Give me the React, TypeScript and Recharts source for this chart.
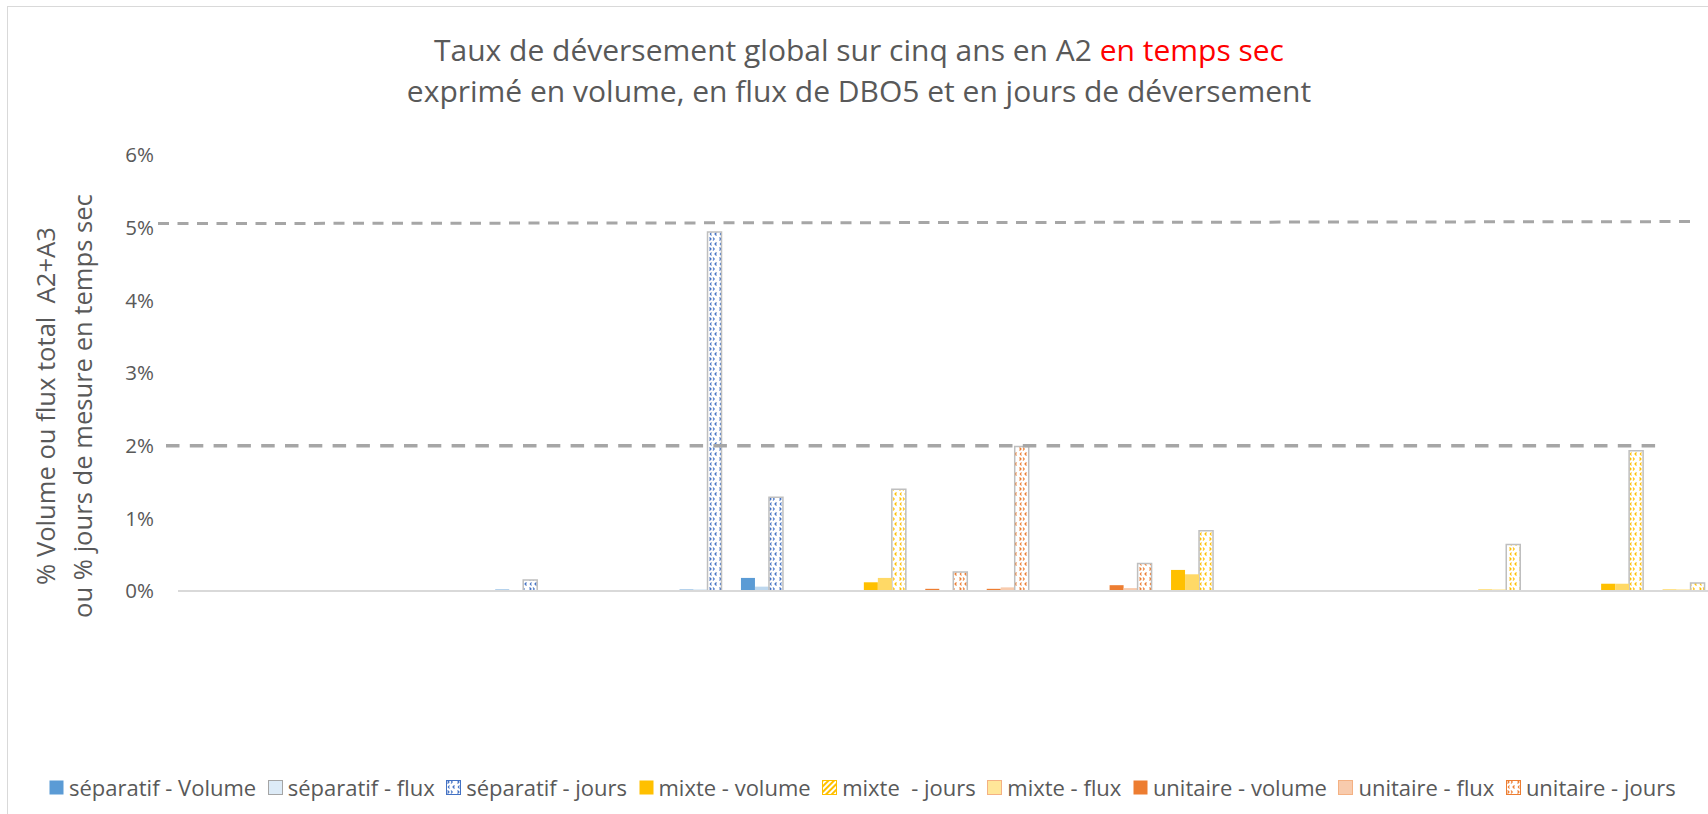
import { BarChart, Bar, XAxis, YAxis, ReferenceLine, Legend } from 'recharts';

const _ = null;

// 25 sites along the x axis (no labels shown on the chart)
const categories = [
  'S01', 'S02', 'S03', 'S04', 'S05', 'S06', 'S07', 'S08', 'S09', 'S10', 'S11', 'S12', 'S13',
  'S14', 'S15', 'S16', 'S17', 'S18', 'S19', 'S20', 'S21', 'S22', 'S23', 'S24', 'S25',
];

// values in %
const sepVolume = [_, _, _, _, _, 0.02, _, _, 0.02, 0.18, _, _, _, _, _, _, _, _, _, _, _, _, _, _, _];
const sepFlux = [_, _, _, _, _, 0, _, _, 0.02, 0.06, _, _, _, _, _, _, _, _, _, _, _, _, _, _, _];
const sepJours = [_, _, _, _, _, 0.15, _, _, 4.94, 1.29, _, _, _, _, _, _, _, _, _, _, _, _, _, _, _];
const mixVolume = [_, _, _, _, _, _, _, _, _, _, _, 0.12, _, _, _, _, 0.29, _, _, _, _, 0.02, _, 0.1, 0.02];
const mixJours = [_, _, _, _, _, _, _, _, _, _, _, 1.4, _, _, _, _, 0.83, _, _, _, _, 0.64, _, 1.93, 0.11];
const mixFlux = [_, _, _, _, _, _, _, _, _, _, _, 0.18, _, _, _, _, 0.23, _, _, _, _, 0.02, _, 0.1, 0.02];
const uniVolume = [_, _, _, _, _, _, _, _, _, _, _, _, 0.03, 0.03, _, 0.08, _, _, _, _, _, _, _, _, _];
const uniFlux = [_, _, _, _, _, _, _, _, _, _, _, _, 0.01, 0.05, _, 0.04, _, _, _, _, _, _, _, _, _];
const uniJours = [_, _, _, _, _, _, _, _, _, _, _, _, 0.26, 1.99, _, 0.38, _, _, _, _, _, _, _, _, _];

const yTicks = [0, 1, 2, 3, 4, 5, 6];

const data = categories.map((cat, i) => ({
  cat,
  sepVolume: sepVolume[i],
  sepFlux: sepFlux[i],
  sepJours: sepJours[i],
  mixVolume: mixVolume[i],
  mixJours: mixJours[i],
  mixFlux: mixFlux[i],
  uniVolume: uniVolume[i],
  uniFlux: uniFlux[i],
  uniJours: uniJours[i],
}));

const FONT = "'Open Sans', sans-serif";
const GRAY = '#595959';
const BAR_BORDER = '#BFBFBF';

const series = [
  { key: 'sepVolume', name: 'séparatif - Volume', stack: 'v', fill: '#5B9BD5', icon: '#5B9BD5', iconStroke: 'none' },
  { key: 'sepFlux', name: 'séparatif - flux', stack: 'f', fill: '#BDD7EE', icon: '#DDEBF7', iconStroke: '#A5A5A5' },
  { key: 'sepJours', name: 'séparatif - jours', stack: 'j', fill: 'url(#pat-sep)', stroke: BAR_BORDER, icon: 'url(#pat-sep)', iconStroke: '#4472C4' },
  { key: 'mixVolume', name: 'mixte - volume', stack: 'v', fill: '#FFC000', icon: '#FFC000', iconStroke: 'none' },
  { key: 'mixJours', name: 'mixte  - jours', stack: 'j', fill: 'url(#pat-mix)', stroke: BAR_BORDER, icon: 'url(#hatch-mix)', iconStroke: '#FFC000' },
  { key: 'mixFlux', name: 'mixte - flux', stack: 'f', fill: '#FFD966', icon: '#FFE699', iconStroke: '#F4B183' },
  { key: 'uniVolume', name: 'unitaire - volume', stack: 'v', fill: '#ED7D31', icon: '#ED7D31', iconStroke: 'none' },
  { key: 'uniFlux', name: 'unitaire - flux', stack: 'f', fill: '#F8CBAD', icon: '#F8CBAD', iconStroke: '#F4B183' },
  { key: 'uniJours', name: 'unitaire - jours', stack: 'j', fill: 'url(#pat-uni)', stroke: BAR_BORDER, icon: 'url(#pat-uni)', iconStroke: '#ED7D31' },
];

const patterns = [
  { id: 'pat-sep', color: '#4472C4' },
  { id: 'pat-mix', color: '#FFC000' },
  { id: 'pat-uni', color: '#ED7D31' },
];

function renderLegend() {
  return (
    <div style={{ display: 'flex', alignItems: 'center', height: 30, whiteSpace: 'pre', fontFamily: FONT, fontSize: 22, color: GRAY }}>
      {series.map((s) => (
        <div key={s.key} style={{ display: 'flex', alignItems: 'center', marginRight: 11.5 }}>
          <svg width={15} height={15} style={{ marginRight: 5, flex: 'none' }}>
            <rect x={0.5} y={0.5} width={14} height={14} fill={s.icon} stroke={s.iconStroke} />
          </svg>
          <span>{s.name}</span>
        </div>
      ))}
    </div>
  );
}

// dashed threshold lines drawn by hand in the original, slightly wider than the plot
const line5 = (p: any) => (
  <line x1={p.x1 - 20} y1={p.y1 + 1} x2={p.x2 - 21} y2={p.y2 - 1} stroke="#A6A6A6" strokeWidth={3} strokeDasharray="11 8.5" />
);
const line2 = (p: any) => (
  <line x1={p.x1 - 12} y1={p.y1} x2={p.x2 - 51} y2={p.y2} stroke="#A6A6A6" strokeWidth={3.5} strokeDasharray="13.5 10.3" />
);

export default function App() {
  return (
    <div style={{ position: 'fixed', left: 0, top: 0, width: 1708, height: 814, overflow: 'hidden', background: '#fff' }}>
      <div style={{ position: 'absolute', left: 7, top: 6, width: 1740, height: 840, border: '1px solid #D9D9D9', background: '#fff', fontFamily: FONT }}>
        <div style={{ position: 'absolute', left: 0, top: 22, width: 1702, textAlign: 'center', fontSize: 30, lineHeight: '41px', color: GRAY, whiteSpace: 'pre' }}>
          <div>
            Taux de déversement global sur cinq ans en A2 <span style={{ color: '#FF0000' }}>en temps sec</span>
          </div>
          <div>exprimé en volume, en flux de DBO5 et en jours de déversement</div>
        </div>
        <div
          style={{
            position: 'absolute', left: 55.6 - 260, top: 399 - 37, width: 520, height: 74,
            transform: 'rotate(-90deg)', textAlign: 'center', fontSize: 25.6, lineHeight: '37px',
            color: GRAY, whiteSpace: 'pre',
          }}
        >
          <div>% Volume ou flux total  A2+A3</div>
          <div>ou % jours de mesure en temps sec</div>
        </div>
        <BarChart
          width={1730}
          height={820}
          data={data}
          margin={{ top: 148, right: 24, bottom: 235, left: 0 }}
          barGap={0}
          barSize={14}
        >
          <defs>
            {patterns.map((p) => (
              <pattern key={p.id} id={p.id} width={10} height={10} patternUnits="userSpaceOnUse">
                <rect width={10} height={10} fill="#fff" />
                <path
                  d="M1.5 0.5 L3 2 L1.5 3.5 M8.5 5.5 L7 7 L8.5 8.5 M5 0.5 L6.2 2 L5 3.5 M3.5 5.5 L2.3 7 L3.5 8.5"
                  stroke={p.color}
                  strokeWidth={1.2}
                  fill="none"
                />
              </pattern>
            ))}
            <pattern id="hatch-mix" width={4} height={4} patternUnits="userSpaceOnUse" patternTransform="rotate(45)">
              <rect width={4} height={4} fill="#fff" />
              <rect width={2} height={4} fill="#FFC000" />
            </pattern>
          </defs>
          <XAxis dataKey="cat" tick={false} tickLine={false} axisLine={{ stroke: '#D9D9D9', strokeWidth: 2 }} height={1} />
          <YAxis
            width={170}
            domain={[0, 6]}
            ticks={yTicks}
            tickFormatter={(v) => `${v}%`}
            axisLine={false}
            tickLine={false}
            tickSize={0}
            tickMargin={24}
            tick={{ fill: GRAY, fontSize: 20.5, fontFamily: FONT }}
          />
          <ReferenceLine y={5.07} shape={line5} />
          <ReferenceLine y={2} shape={line2} />
          {series.map((s) => (
            <Bar
              key={s.key}
              dataKey={s.key}
              name={s.name}
              stackId={s.stack}
              fill={s.fill}
              stroke={s.stroke}
              strokeWidth={s.stroke ? 1.5 : 0}
              isAnimationActive={false}
            />
          ))}
          <Legend
            layout="vertical"
            verticalAlign="middle"
            align="center"
            wrapperStyle={{ left: 41, top: 765, width: 'auto', height: 30 }}
            content={renderLegend}
          />
        </BarChart>
      </div>
    </div>
  );
}
